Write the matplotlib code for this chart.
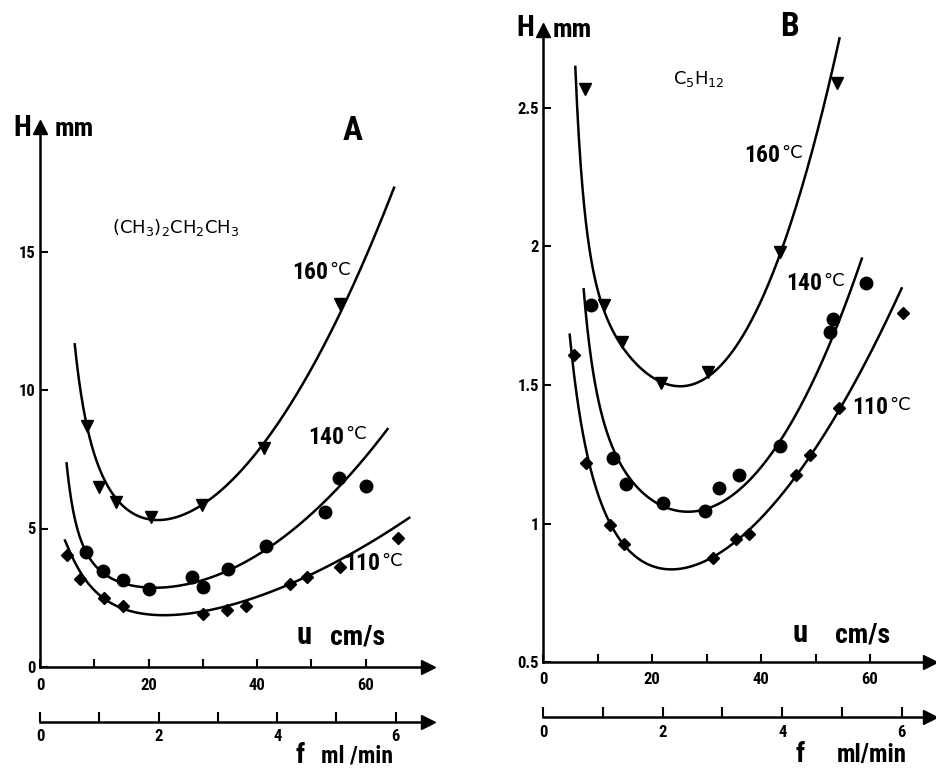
import numpy as np
import matplotlib
matplotlib.use('Agg')
import matplotlib.pyplot as plt
from matplotlib import font_manager

names = {f.name for f in font_manager.fontManager.ttflist}
NARROW = 'DejaVu Sans'
for cand in ['Liberation Sans Narrow', 'Roboto Condensed', 'Open Sans Condensed']:
    if cand in names:
        NARROW = cand
        break

# ---- panel A, (CH3)2CH2CH3 : measured points ----
a_u160 = [8.7, 10.9, 14.0, 20.4, 29.9, 41.3, 55.2]
a_h160 = [8.7, 6.5, 5.95, 5.4, 5.85, 7.9, 13.1]
a_u140 = [8.5, 11.6, 15.2, 20.1, 28.0, 30.1, 34.7, 41.6, 52.4, 55.1, 60.1]
a_h140 = [4.15, 3.47, 3.14, 2.81, 3.24, 2.89, 3.53, 4.37, 5.6, 6.82, 6.52]
a_u110 = [4.9, 7.4, 11.7, 15.2, 30.1, 34.5, 38.0, 46.0, 49.1, 55.3, 65.9]
a_h110 = [4.04, 3.18, 2.49, 2.2, 1.91, 2.06, 2.2, 3.0, 3.25, 3.6, 4.66]

# panel A : points
a_cu160 = [6.4, 8.0, 8.6, 11.0, 14.1, 20.3, 24.6, 30.1, 35.0, 41.1, 46.6, 55.2, 65.2]
a_ch160 = [11.6, 9.52, 8.68, 7.0, 6.03, 5.43, 5.49, 5.85, 6.65, 7.83, 9.64, 13.0, 17.2]
a_cu140 = [4.9, 5.8, 7.4, 9.8, 14.7, 20.3, 25.8, 30.1, 35.0, 41.1, 47.3, 53.4, 59.5, 64.0]
a_ch140 = [7.47, 5.79, 4.58, 3.86, 3.26, 2.88, 2.81, 2.96, 3.35, 4.34, 5.19, 6.27, 7.53, 8.44]
a_cu110 = [4.6, 6.75, 9.8, 14.7, 20.3, 25.8, 30.1, 35.0, 41.1, 47.3, 53.4, 59.5, 68.0]
a_ch110 = [4.58, 3.62, 2.78, 2.27, 1.94, 1.84, 1.96, 2.16, 2.54, 3.14, 3.78, 4.44, 5.28]

# ---- panel B, C5H12 : measured points ----
b_u160 = [7.7, 11.2, 14.5, 21.7, 30.3, 43.5, 53.9]
b_h160 = [2.57, 1.79, 1.655, 1.507, 1.547, 1.98, 2.59]
b_u140 = [8.8, 12.9, 15.3, 22.0, 29.7, 32.3, 36.0, 43.5, 52.7, 53.2, 59.3]
b_h140 = [1.79, 1.236, 1.143, 1.074, 1.045, 1.128, 1.175, 1.28, 1.69, 1.74, 1.87]
b_u110 = [5.7, 7.9, 12.3, 14.9, 31.2, 35.4, 37.8, 46.4, 49.0, 54.3, 66.1]
b_h110 = [1.608, 1.218, 0.995, 0.926, 0.876, 0.944, 0.962, 1.175, 1.247, 1.417, 1.76]

# panel B : points
b_cu160 = [5.93, 6.42, 7.03, 7.95, 9.17, 11.0, 14.1, 18.3, 23.2, 27.5, 31.8, 36.4, 43.5, 48.4, 52.1, 54.4]
b_ch160 = [2.649, 2.445, 2.264, 2.084, 1.903, 1.783, 1.657, 1.554, 1.496, 1.506, 1.554, 1.66, 1.987, 2.264, 2.565, 2.745]
b_cu140 = [7.46, 8.3, 10.4, 12.8, 17.1, 24.5, 29.4, 34.3, 43.5, 48.4, 52.7, 56.3, 58.5]
b_ch140 = [1.849, 1.66, 1.458, 1.254, 1.121, 1.049, 1.061, 1.109, 1.29, 1.434, 1.674, 1.843, 1.951]
b_cu110 = [4.9, 5.8, 7.3, 10.4, 14.7, 19.6, 25.7, 31.2, 36.4, 42.3, 48.4, 54.5, 60.6, 65.8]
b_ch110 = [1.687, 1.518, 1.313, 1.097, 0.94, 0.856, 0.832, 0.868, 0.93, 1.073, 1.229, 1.434, 1.662, 1.819]

u_ticks = [0, 10, 20, 30, 40, 50, 60]
u_labels = ['0', '', '20', '', '40', '', '60']
f_ticks = [0, 1, 2, 3, 4, 5, 6]
f_labels = ['0', '', '2', '', '4', '', '6']
a_hticks = [0, 5, 10, 15]
a_hlabels = ['0', '5', '10', '15']
b_hticks = [0.5, 1, 1.5, 2, 2.5]
b_hlabels = ['0.5', '1', '1.5', '2', '2.5']

W, H = 937, 770
fig = plt.figure(figsize=(W / 100, H / 100), dpi=100)


def put(x, y, s, **kw):
    # place text by reference pixel position
    fig.text(x / W, 1 - y / H, s, **kw)


def smooth(u, h):
    # least squares curve (van Deemter-like terms) through the traced points
    u = np.asarray(u, float)
    basis = lambda x: np.column_stack([np.ones_like(x), 1 / x, 1 / x ** 2, x, x ** 2])
    coef = np.linalg.lstsq(basis(u), np.asarray(h, float), rcond=None)[0]
    uu = np.linspace(u.min(), u.max(), 300)
    return uu, basis(uu) @ coef


def style_labels(labels):
    for lab in labels:
        lab.set_fontweight('bold')
        lab.set_family(NARROW)
        lab.set_fontsize(12)


def panel(x0, x1, y0, y1, ulim, hlim, hticks, hlabels, fy, flim, xpad, fpad):
    ax = fig.add_axes([x0 / W, 1 - y0 / H, (x1 - x0) / W, (y0 - y1) / H])
    ax.set_xlim(*ulim)
    ax.set_ylim(*hlim)
    for s in ('top', 'right'):
        ax.spines[s].set_visible(False)
    for s in ('left', 'bottom'):
        ax.spines[s].set_linewidth(1.8)
    ax.set_xticks(u_ticks)
    ax.set_xticklabels(u_labels)
    ax.set_yticks(hticks)
    ax.set_yticklabels(hlabels)
    ax.tick_params(direction='in', length=6, width=1.5)
    ax.tick_params(axis='x', pad=xpad)
    ax.tick_params(axis='y', pad=3)
    style_labels(ax.get_xticklabels() + ax.get_yticklabels())
    ax.plot(1, 0, '>k', ms=10, transform=ax.transAxes, clip_on=False)
    ax.plot(0, 1, '^k', ms=10, transform=ax.transAxes, clip_on=False)

    fa = fig.add_axes([x0 / W, 1 - fy / H, (x1 - x0) / W, 0.0001])
    fa.set_xlim(*flim)
    for s in ('top', 'right', 'left'):
        fa.spines[s].set_visible(False)
    fa.spines['bottom'].set_linewidth(1.8)
    fa.set_yticks([])
    fa.set_xticks(f_ticks)
    fa.set_xticklabels(f_labels)
    fa.tick_params(direction='in', length=7, width=1.5, pad=fpad)
    style_labels(fa.get_xticklabels())
    fa.plot(1, 0, '>k', ms=10, transform=fa.transAxes, clip_on=False)
    return ax


def draw(ax, pts, curves):
    for (u, h, m, ms), (cu, ch) in zip(pts, curves):
        uu, hh = smooth(cu, ch)
        ax.plot(uu, hh, color='black', lw=1.8)
        ax.plot(u, h, m, color='black', ms=ms, ls='none')


# ---------- panel A ----------
axA = panel(40, 428, 667, 127, (0, 388 / 5.43), (0, 540 / 27.7),
            a_hticks, a_hlabels, 722, (0, 388 / 59.3), 8, 5)
draw(axA,
     [(a_u160, a_h160, 'v', 9), (a_u140, a_h140, 'o', 9), (a_u110, a_h110, 'D', 6.5)],
     [(a_cu160, a_ch160), (a_cu140, a_ch140), (a_cu110, a_ch110)])

# ---------- panel B ----------
axB = panel(543, 930, 662, 30, (0, 387 / 5.45), (0.5, 0.5 + 632 / 277),
            b_hticks, b_hlabels, 717, (0, 387 / 59.8), 7, 6)
draw(axB,
     [(b_u160, b_h160, 'v', 9), (b_u140, b_h140, 'o', 9), (b_u110, b_h110, 'D', 6.5)],
     [(b_cu160, b_ch160), (b_cu140, b_ch140), (b_cu110, b_ch110)])

bold = dict(fontweight='bold', family=NARROW, fontstretch='condensed')

# panel A labels
put(22, 128, 'H', fontsize=21, ha='center', va='center', **bold)
put(74, 129, 'mm', fontsize=19, ha='center', va='center', **bold)
put(353, 131, 'A', fontsize=24, ha='center', va='center', **bold)
put(176, 228, r'(CH$_3$)$_2$CH$_2$CH$_3$', fontsize=13, ha='center', va='center')
put(296, 635, 'u', fontsize=22, ha='left', va='center', **bold)
put(330, 637, 'cm/s', fontsize=20, ha='left', va='center', **bold)
put(296, 763, 'f', fontsize=20, ha='left', va='baseline', **bold)
put(321, 763, 'ml /min', fontsize=17, ha='left', va='baseline', **bold)

# panel B labels
put(525, 28, 'H', fontsize=21, ha='center', va='center', **bold)
put(572, 30, 'mm', fontsize=19, ha='center', va='center', **bold)
put(789, 27, 'B', fontsize=24, ha='center', va='center', **bold)
put(699, 79, r'C$_5$H$_{12}$', fontsize=13, ha='center', va='center')
put(793, 633, 'u', fontsize=22, ha='left', va='center', **bold)
put(835, 635, 'cm/s', fontsize=20, ha='left', va='center', **bold)
put(796, 762, 'f', fontsize=20, ha='left', va='baseline', **bold)
put(837, 762, 'ml/min', fontsize=18, ha='left', va='baseline', **bold)

# temperature labels: (digits right edge x, y centre, text)
temps = [(328, 273, '160'), (344, 437, '140'), (380, 564, '110'),
         (780, 156, '160'), (822, 284, '140'), (888, 408, '110')]
tsize = 17 if NARROW != 'DejaVu Sans' else 14
for x, y, t in temps:
    put(x, y, t, fontsize=tsize, ha='right', va='center', **bold)
    put(x + 1, y - 3, '°C', fontsize=13, ha='left', va='center')

fig.savefig('out.png', dpi=100)
